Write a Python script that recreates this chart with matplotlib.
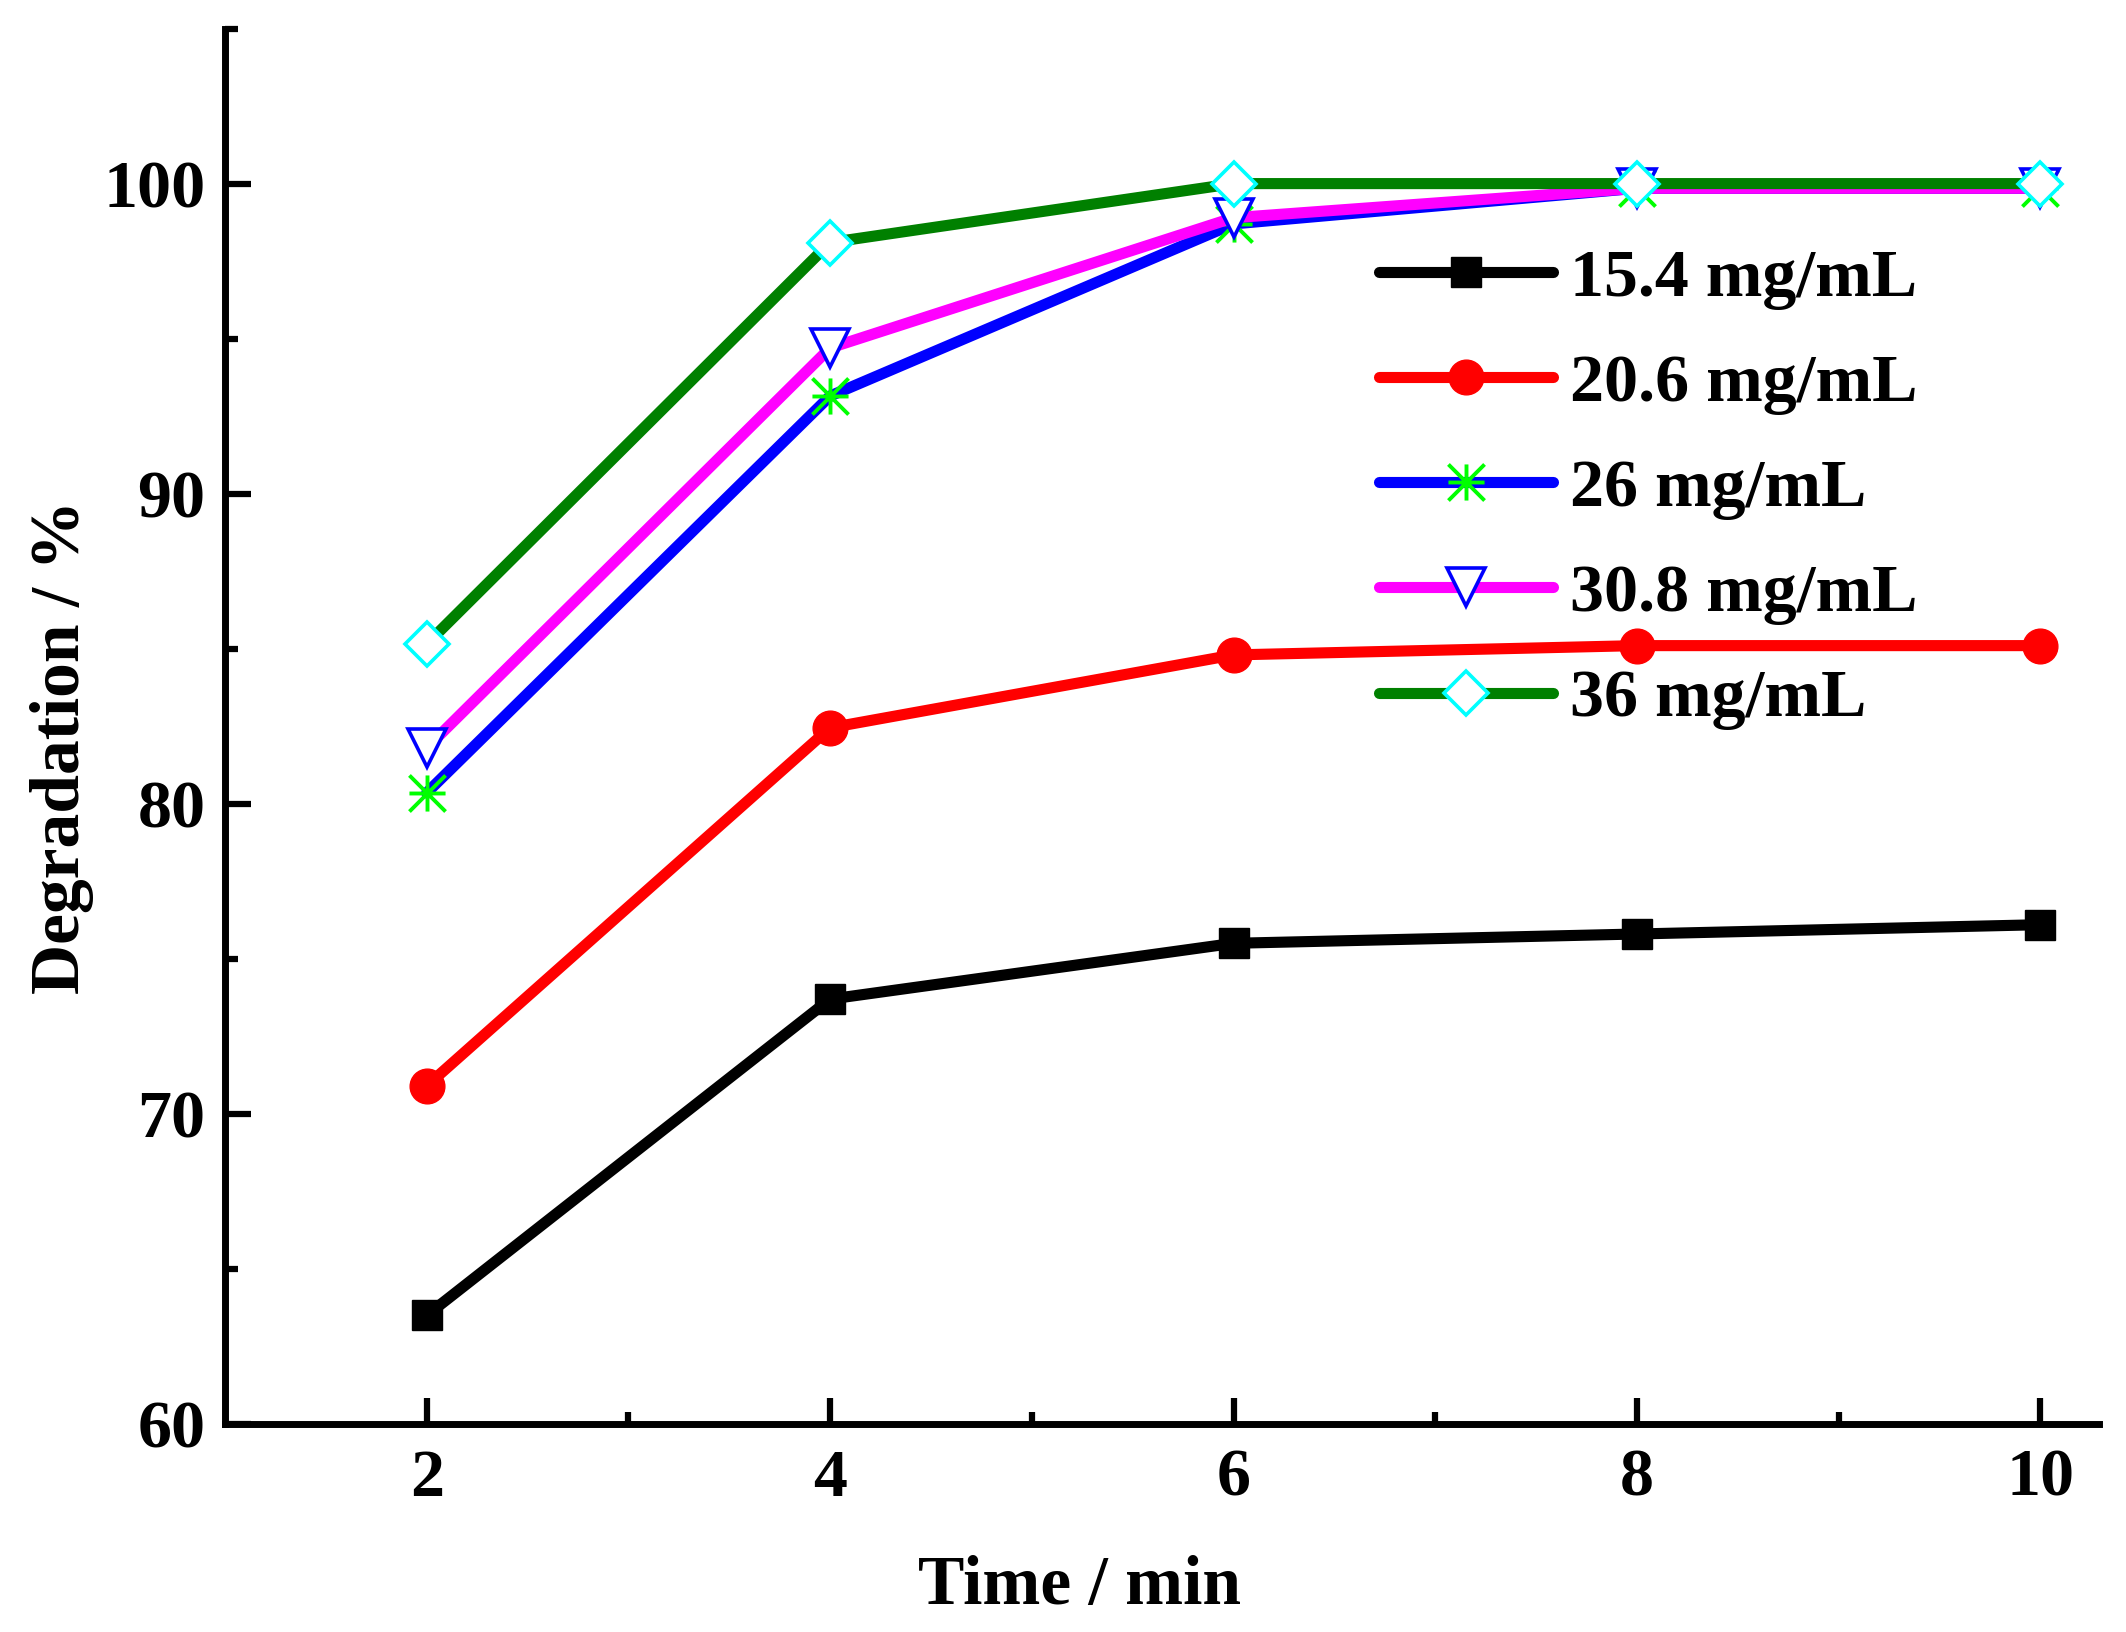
import matplotlib.pyplot as plt
import matplotlib as mpl
from matplotlib.path import Path
import numpy as np

# data
time_min = [2, 4, 6, 8, 10]
deg_15_4 = [63.5, 73.7, 75.5, 75.8, 76.1]
deg_20_6 = [70.9, 82.45, 84.8, 85.1, 85.1]
deg_26 = [80.35, 93.15, 98.7, 99.85, 99.85]
deg_30_8 = [81.8, 94.7, 98.9, 99.85, 99.85]
deg_36 = [85.15, 98.1, 100.0, 100.0, 100.0]
labels = ['15.4 mg/mL', '20.6 mg/mL', '26 mg/mL', '30.8 mg/mL', '36 mg/mL']

x_ticks = [2, 4, 6, 8, 10]
x_minor = [3, 5, 7, 9]
y_ticks = [60, 70, 80, 90, 100]
y_minor = [65, 75, 85, 95, 105]

# asterisk marker: plus + cross to the corners
star_path = Path(
    [(-1, 0), (1, 0), (0, -1), (0, 1), (-1, -1), (1, 1), (-1, 1), (1, -1)],
    [Path.MOVETO, Path.LINETO] * 4,
)


def main():
    mpl.rcParams['font.family'] = 'Liberation Serif'
    mpl.rcParams['font.weight'] = 'bold'
    mpl.rcParams['axes.linewidth'] = 5

    fig = plt.figure(figsize=(21.26, 16.32), dpi=100)
    ax = fig.add_axes([0.1058, 0.1275, 0.9873 - 0.1058, 0.9825 - 0.1275])

    lw = 8
    common = dict(lw=lw, solid_capstyle='round', solid_joinstyle='round')
    ax.plot(time_min, deg_15_4, color='black', marker='s', ms=21,
            mec='black', mfc='black', label=labels[0], **common)
    ax.plot(time_min, deg_20_6, color='red', marker='o', ms=25,
            mec='red', mfc='red', label=labels[1], **common)
    ax.plot(time_min, deg_26, color='blue', marker=star_path, ms=26,
            mec='#00ff00', mfc='none', mew=2.8, label=labels[2], **common)
    ax.plot(time_min, deg_30_8, color='#ff00ff', marker='v', ms=28,
            mec='blue', mfc='white', mew=2.6, label=labels[3], **common)
    ax.plot(time_min, deg_36, color='green', marker='D', ms=22,
            mec='cyan', mfc='white', mew=2.6, label=labels[4], **common)

    ax.set_xlim(1, 10.29)
    ax.set_ylim(60, 105)
    ax.set_xticks(x_ticks)
    ax.set_xticks(x_minor, minor=True)
    ax.set_yticks(y_ticks)
    ax.set_yticks(y_minor, minor=True)

    ax.spines['top'].set_visible(False)
    ax.spines['right'].set_visible(False)

    ax.xaxis.set_tick_params(which='major', length=19, width=4.5, direction='in',
                             pad=18, labelsize=49)
    ax.yaxis.set_tick_params(which='major', length=19, width=4.5, direction='in',
                             pad=14, labelsize=49)
    ax.xaxis.set_tick_params(which='minor', length=9, width=4.5, direction='in')
    ax.yaxis.set_tick_params(which='minor', length=9, width=4.5, direction='in')

    ax.set_xlabel('Time / min', fontsize=50, fontweight='bold')
    ax.set_ylabel('Degradation / %', fontsize=50, fontweight='bold')
    ax.xaxis.set_label_coords(0.456, -0.094)
    ax.yaxis.set_label_coords(-0.070, 0.485)

    ax.legend(loc='upper left', bbox_to_anchor=(0.6487, 0.848),
              bbox_transform=fig.transFigure, frameon=False,
              fontsize=49, handlelength=2.55, handletextpad=0.25,
              labelspacing=0.64, borderpad=0, borderaxespad=0)

    plt.savefig('out.png', dpi=100)


if __name__ == '__main__':
    main()
